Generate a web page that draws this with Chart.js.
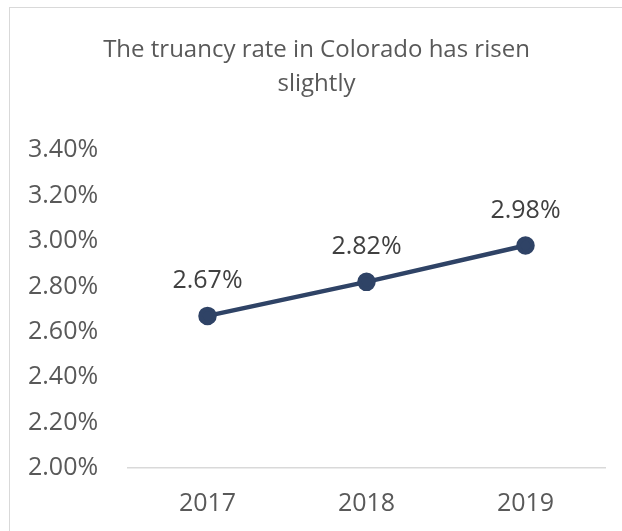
<!DOCTYPE html>
<html>
<head>
<meta charset="utf-8">
<script src="https://cdn.jsdelivr.net/npm/chart.js@4"></script>
<style>
  html, body { margin: 0; padding: 0; background: #fff; overflow: hidden; width: 622px; height: 531px; }
  #frame { position: absolute; left: 9px; top: 7px; width: 640px; height: 560px; border: 1px solid #d9d9d9; }
  #wrap { position: absolute; left: 0; top: 0; width: 622px; height: 532px; }
</style>
</head>
<body>
<div id="frame"></div>
<div id="wrap"><canvas id="chart" width="622" height="532"></canvas></div>
<script>
const years = ['2017', '2018', '2019'];
const truancyRate = [2.67, 2.82, 2.98];
const titleLines = ['The truancy rate in Colorado has risen', 'slightly'];
const yMin = 2.0;
const yMax = 3.4;

const FONT = "'Open Sans', 'DejaVu Sans', sans-serif";

// draws the value above each point
const pointLabels = {
  id: 'pointLabels',
  afterDatasetsDraw(chart) {
    const ctx = chart.ctx;
    const meta = chart.getDatasetMeta(0);
    ctx.save();
    ctx.font = '25px ' + FONT;
    ctx.fillStyle = '#404040';
    ctx.textAlign = 'center';
    ctx.textBaseline = 'middle';
    meta.data.forEach((pt, i) => {
      ctx.fillText(truancyRate[i].toFixed(2) + '%', pt.x, pt.y - 35);
    });
    ctx.restore();
  }
};

new Chart(document.getElementById('chart'), {
  type: 'line',
  data: {
    labels: years,
    datasets: [{
      data: truancyRate,
      borderColor: '#2f4366',
      backgroundColor: '#2f4366',
      borderWidth: 4.5,
      pointRadius: 7,
      pointHoverRadius: 7,
      tension: 0
    }]
  },
  options: {
    responsive: false,
    animation: false,
    layout: { padding: { left: 28, right: 17, top: 0, bottom: 0 } },
    plugins: {
      legend: { display: false },
      tooltip: { enabled: false },
      title: {
        display: true,
        text: titleLines,
        color: '#595959',
        font: { family: FONT, size: 24, weight: 'normal', lineHeight: 1.42 },
        padding: { top: 33, bottom: 49 }
      }
    },
    scales: {
      x: {
        offset: true,
        grid: { display: false },
        border: { display: true, color: '#d9d9d9', width: 1.5 },
        ticks: { color: '#595959', font: { family: FONT, size: 25 }, padding: 13 }
      },
      y: {
        min: yMin,
        max: yMax,
        grid: { display: false },
        border: { display: false },
        afterFit(scale) { scale.width = 100; },
        ticks: {
          stepSize: 0.2,
          crossAlign: 'far',
          padding: 0,
          color: '#595959',
          font: { family: FONT, size: 25 },
          callback: v => v.toFixed(2) + '%'
        }
      }
    }
  },
  plugins: [pointLabels]
});
</script>
</body>
</html>
